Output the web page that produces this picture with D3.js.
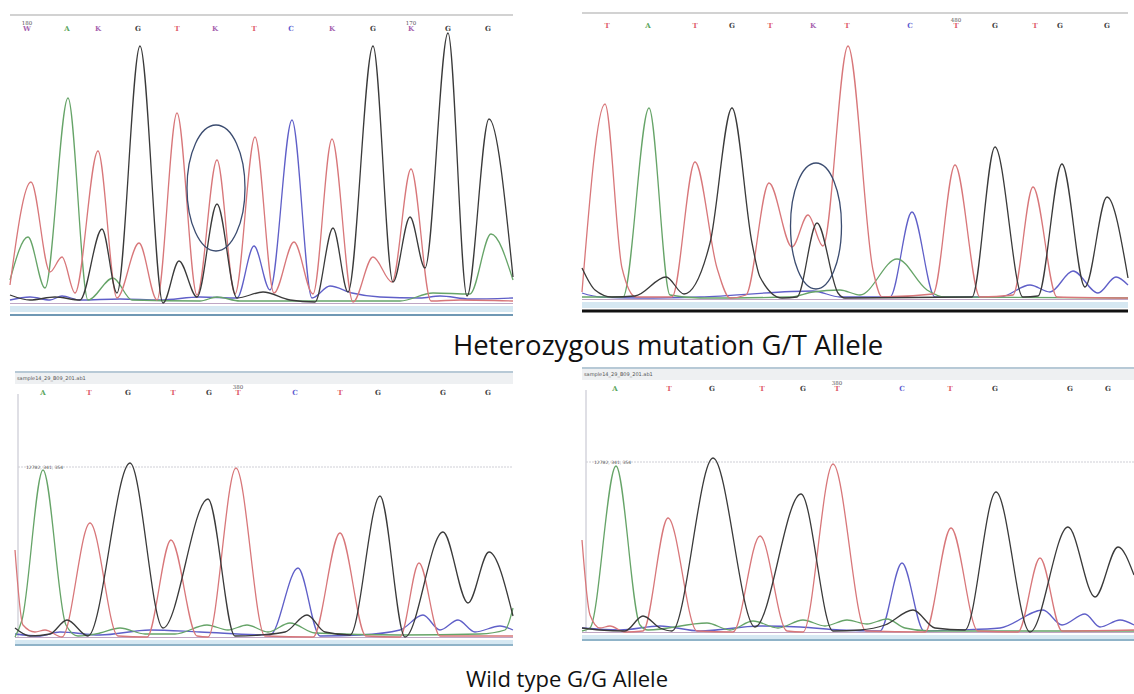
<!DOCTYPE html>
<html>
<head>
<meta charset="utf-8">
<script src="https://cdn.jsdelivr.net/npm/d3@7"></script>
<style>
  body { margin: 0; background: #fff; }
</style>
</head>
<body>
<svg id="fig" width="1134" height="694"></svg>
<script>
// ---- data: scan index (x) and signal (y) ----

// top left: heterozygous, reverse read
const p1Bases = ["W","A","K","G","T","K","T","C","K","G","K","G","G"];
const p1BasePos = [17,57,88,128,167,205,244,281,322,363,401,438,478];
const p1TickPos = [17,401];
const p1TickLabels = ["180","170"];
const p1Red = [[0,18],[21,121],[40,31],[52,46],[65,10],[88,152],[107,5],[129,60],[147,3],[167,190],[187,8],[207,143],[225,9],[245,166],[264,10],[284,61],[303,9],[322,164],[343,1],[363,46],[382,21],[401,134],[421,2],[450,3],[503,2]];
const p1Green = [[0,23],[18,66],[35,15],[58,205],[78,3],[103,25],[122,3],[190,2],[207,6],[230,2],[390,2],[423,10],[460,9],[481,69],[503,23]];
const p1Black = [[0,8],[20,3],[45,6],[70,3],[92,74],[107,10],[130,257],[153,0],[169,42],[187,6],[207,99],[227,5],[253,11],[280,3],[305,1],[323,75],[338,11],[363,257],[383,21],[400,86],[415,35],[438,270],[457,7],[479,184],[503,26]];
const p1Blue = [[0,3],[20,6],[40,3],[52,7],[70,3],[110,4],[150,3],[190,6],[227,5],[244,57],[260,13],[282,183],[302,5],[320,17],[342,10],[370,6],[410,5],[430,7],[460,4],[503,5]];
const p1Mark = [206,115];

// top right: heterozygous, forward read
const p2Bases = ["T","A","T","G","T","K","T","C","T","G","T","G","G"];
const p2BasePos = [25,66,113,150,188,231,265,328,374,413,453,478,525];
const p2TickPos = [374];
const p2TickLabels = ["480"];
const p2Red = [[0,7],[23,195],[40,31],[54,2],[90,2],[113,137],[135,31],[148,1],[164,4],[187,116],[210,52],[226,84],[241,53],[266,253],[291,29],[300,2],[351,5],[373,134],[398,2],[431,4],[451,112],[475,2],[546,1]];
const p2Green = [[0,2],[41,2],[67,191],[88,4],[118,1],[208,2],[231,7],[258,9],[278,4],[315,40],[345,9],[363,2],[546,1]];
const p2Black = [[0,31],[13,9],[30,2],[53,3],[84,22],[102,5],[128,56],[150,191],[170,56],[178,22],[200,1],[215,2],[235,76],[256,6],[263,1],[390,2],[413,152],[441,2],[456,3],[480,135],[503,12],[525,102],[546,21]];
const p2Blue = [[0,6],[18,2],[58,1],[118,2],[231,8],[258,2],[308,2],[330,87],[353,2],[418,2],[448,14],[468,7],[491,28],[516,6],[534,22],[546,14]];
const p2Mark = [234,73];

// bottom left: wild type
const p3Bases = ["A","T","G","T","G","T","C","T","G","G","G"];
const p3BasePos = [28,74,113,158,194,223,280,325,363,428,473];
const p3TickPos = [223];
const p3TickLabels = ["380"];
const p3Red = [[0,87],[8,12],[20,5],[30,7],[47,0],[75,114],[103,1],[132,0],[156,97],[182,1],[193,0],[221,169],[250,1],[298,0],[325,104],[351,1],[385,0],[404,74],[425,1],[498,1]];
const p3Green = [[0,0],[7,17],[28,167],[51,12],[63,1],[85,4],[105,9],[130,3],[160,3],[192,12],[213,7],[232,12],[253,5],[275,14],[300,4],[385,2],[465,3],[490,7],[498,29]];
const p3Black = [[0,9],[15,1],[35,3],[52,17],[73,1],[115,174],[148,9],[193,138],[220,1],[245,2],[270,5],[292,22],[310,5],[335,2],[365,141],[390,0],[428,105],[453,34],[474,85],[498,21]];
const p3Blue = [[0,3],[25,1],[45,5],[85,2],[135,7],[185,5],[255,2],[283,69],[305,1],[345,2],[385,7],[408,22],[425,7],[443,17],[460,5],[485,11],[498,7]];

// bottom right: wild type
const p4Bases = ["A","T","G","T","G","T","C","T","G","G","G"];
const p4BasePos = [33,87,130,180,221,255,320,368,413,488,526];
const p4TickPos = [255];
const p4TickLabels = ["380"];
const p4Red = [[0,92],[8,17],[18,4],[28,6],[43,0],[61,1],[86,114],[115,1],[151,0],[178,96],[205,1],[221,0],[251,168],[284,1],[343,0],[369,104],[396,1],[436,0],[458,74],[480,1],[552,2]];
const p4Green = [[0,1],[8,4],[34,166],[58,7],[66,2],[125,9],[148,2],[171,11],[196,4],[221,12],[243,6],[265,12],[285,8],[305,13],[323,4],[348,1],[552,1]];
const p4Black = [[0,4],[18,2],[43,1],[61,16],[78,4],[90,1],[131,174],[173,5],[219,138],[251,1],[278,2],[303,7],[331,22],[353,4],[383,2],[414,140],[448,0],[486,105],[513,35],[536,85],[552,57]];
const p4Blue = [[0,4],[38,2],[78,6],[118,1],[178,6],[218,5],[258,2],[298,1],[320,69],[342,1],[378,2],[418,4],[461,22],[480,7],[503,18],[518,5],[538,12],[552,7]];

const sampleName = "sample14_29_B09_201.ab1";
const refLabel = "12782, 341, 354";
const refLevel = 170;
const titles = ["Heterozygous mutation G/T Allele", "Wild type G/G Allele"];

// ---- drawing ----
const svg = d3.select("#fig");
svg.append("rect").attr("width", 1134).attr("height", 694).attr("fill", "#fff");

const baseColor = {A: "#5aa55c", C: "#5a5ad0", G: "#3c3c3c", T: "#e0606a", K: "#a864b0", W: "#a864b0"};
const traceColor = {red: "#d8777a", green: "#66a468", black: "#3a3a3a", blue: "#5f5fc8"};

function drawPanel(p) {
  const g = svg.append("g");
  const x = d3.scaleLinear().domain([0, p.right - p.left]).range([p.left, p.right]);
  const y = d3.scaleLinear().domain([0, 300]).range([p.base, p.base - 300]);
  const line = d3.line()
    .x(d => x(d[0]))
    .y(d => y(d[1]))
    .curve(d3.curveMonotoneX);

  // header
  if (p.header) {
    g.append("rect").attr("x", p.left).attr("y", p.top).attr("width", p.right - p.left)
      .attr("height", 12).attr("fill", "#eef0f2");
    g.append("line").attr("x1", p.left).attr("x2", p.right).attr("y1", p.top).attr("y2", p.top)
      .attr("stroke", "#b7c9d6").attr("stroke-width", 2);
    g.append("text").attr("x", p.left + 2).attr("y", p.top + 8).text(sampleName)
      .attr("font-family", "DejaVu Sans").attr("font-size", 5).attr("fill", "#555");
    g.append("line").attr("x1", p.axisX).attr("x2", p.axisX).attr("y1", p.top + 22).attr("y2", p.base)
      .attr("stroke", "#d5d5dd").attr("stroke-width", 1.5);
  } else {
    g.append("line").attr("x1", p.left).attr("x2", p.right).attr("y1", p.top).attr("y2", p.top)
      .attr("stroke", "#d2d2d2").attr("stroke-width", 2);
  }

  // base calls
  g.append("g").selectAll("text").data(p.bases).join("text")
    .attr("x", (d, i) => x(p.basePos[i]))
    .attr("y", p.letterY)
    .attr("text-anchor", "middle")
    .attr("font-family", "DejaVu Serif")
    .attr("font-size", 7)
    .attr("font-weight", "bold")
    .attr("fill", d => baseColor[d])
    .text(d => d);
  g.append("g").selectAll("text").data(p.tickLabels).join("text")
    .attr("x", (d, i) => x(p.tickPos[i]))
    .attr("y", p.letterY - 6)
    .attr("text-anchor", "middle")
    .attr("font-family", "DejaVu Serif")
    .attr("font-size", 5.5)
    .attr("fill", "#555")
    .text(d => d);

  // reference level line
  if (p.refLine) {
    g.append("line").attr("x1", p.axisX).attr("x2", p.right)
      .attr("y1", y(refLevel)).attr("y2", y(refLevel))
      .attr("stroke", "#cfcfd6").attr("stroke-width", 1).attr("stroke-dasharray", "2,1");
    g.append("text").attr("x", p.axisX + 8).attr("y", y(refLevel) + 1.5).text(refLabel)
      .attr("font-family", "DejaVu Sans").attr("font-size", 4.5).attr("fill", "#555");
  }

  // baseline + footer bands
  g.append("line").attr("x1", p.left).attr("x2", p.right).attr("y1", p.base + 0.5).attr("y2", p.base + 0.5)
    .attr("stroke", "#bfa6c4").attr("stroke-width", 1);
  g.append("rect").attr("x", p.left).attr("y", p.base + 3).attr("width", p.right - p.left)
    .attr("height", 6).attr("fill", "#d6e8f2");
  g.append("line").attr("x1", p.left).attr("x2", p.right).attr("y1", p.base + p.footY).attr("y2", p.base + p.footY)
    .attr("stroke", p.footColor).attr("stroke-width", p.footWidth);

  // traces
  const traces = [["blue", p.blue], ["green", p.green], ["red", p.red], ["black", p.black]];
  g.append("g").selectAll("path").data(traces).join("path")
    .attr("d", d => line(d[1]))
    .attr("fill", "none")
    .attr("stroke", d => traceColor[d[0]])
    .attr("stroke-width", 1.3)
    .attr("stroke-linejoin", "round");

  // circled heterozygous position
  if (p.mark) {
    g.append("ellipse")
      .attr("cx", x(p.mark[0])).attr("cy", y(p.mark[1]))
      .attr("rx", p.markR[0]).attr("ry", p.markR[1])
      .attr("fill", "none").attr("stroke", "#3b4c70").attr("stroke-width", 1.3);
  }
}

drawPanel({left: 10, right: 513, base: 303, top: 15, letterY: 31,
  bases: p1Bases, basePos: p1BasePos, tickPos: p1TickPos, tickLabels: p1TickLabels,
  red: p1Red, green: p1Green, black: p1Black, blue: p1Blue,
  mark: p1Mark, markR: [29, 63], footY: 12, footColor: "#6f98b4", footWidth: 2});
drawPanel({left: 582, right: 1128, base: 299, top: 13, letterY: 28,
  bases: p2Bases, basePos: p2BasePos, tickPos: p2TickPos, tickLabels: p2TickLabels,
  red: p2Red, green: p2Green, black: p2Black, blue: p2Blue,
  mark: p2Mark, markR: [25.5, 63], footY: 12, footColor: "#111", footWidth: 3});
drawPanel({left: 15, right: 513, base: 637, top: 372, letterY: 395, header: true, axisX: 18, refLine: true,
  bases: p3Bases, basePos: p3BasePos, tickPos: p3TickPos, tickLabels: p3TickLabels,
  red: p3Red, green: p3Green, black: p3Black, blue: p3Blue,
  footY: 8, footColor: "#8fb3c8", footWidth: 2});
drawPanel({left: 582, right: 1134, base: 632, top: 368, letterY: 391, header: true, axisX: 586, refLine: true,
  bases: p4Bases, basePos: p4BasePos, tickPos: p4TickPos, tickLabels: p4TickLabels,
  red: p4Red, green: p4Green, black: p4Black, blue: p4Blue,
  footY: 8, footColor: "#8fb3c8", footWidth: 2});

// captions
svg.append("text").attr("x", 668).attr("y", 355).attr("text-anchor", "middle")
  .attr("font-family", "Open Sans").attr("font-size", 27.5).attr("fill", "#111").text(titles[0]);
svg.append("text").attr("x", 567).attr("y", 687).attr("text-anchor", "middle")
  .attr("font-family", "Open Sans").attr("font-size", 22).attr("fill", "#111").text(titles[1]);
</script>
</body>
</html>
